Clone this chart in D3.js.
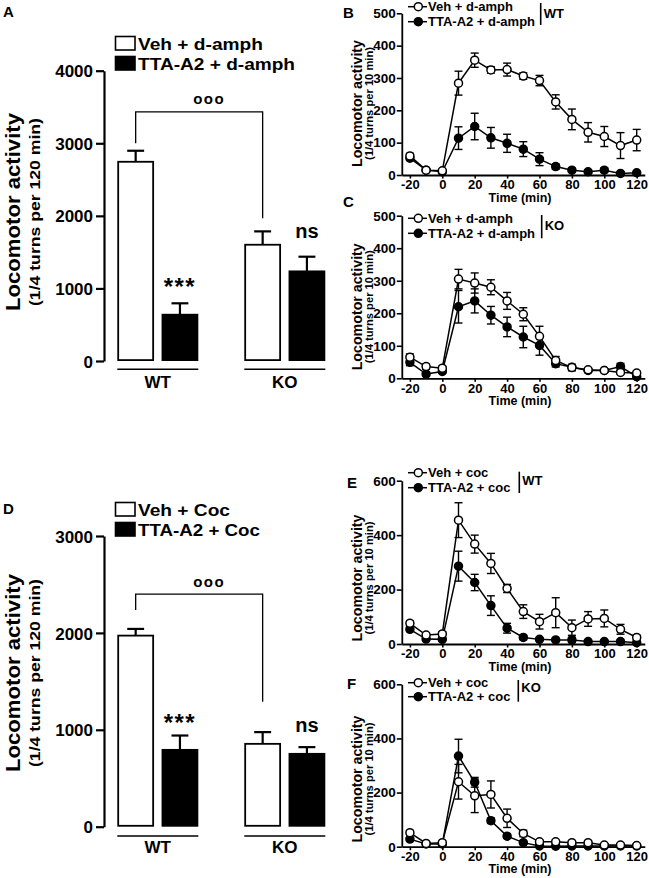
<!DOCTYPE html>
<html>
<head>
<meta charset="utf-8">
<script src="https://cdn.jsdelivr.net/npm/d3@7"></script>
<style>
  html, body { margin: 0; padding: 0; background: #fff; }
  svg { display: block; }
  text { font-family: 'Liberation Sans', Arial, Helvetica, sans-serif; font-weight: bold; fill: #000; }
</style>
</head>
<body>
<svg id="chart" width="649" height="878"></svg>
<script>
// ---------------- DATA ----------------
const groups = ["WT", "KO"];
const barSeries = ["Veh", "TTA-A2"];

// Panel A (d-amph, total 120 min)
const aLegend = ["Veh + d-amph", "TTA-A2 + d-amph"];
const aVeh = [2745, 1602];
const aVehErr = [152, 184];
const aTta = [638, 1235];
const aTtaErr = [157, 202];
const aTicks = [0, 1000, 2000, 3000, 4000];
const aBracket = [3434, 3000, 1966];   // top, left end, right end (values)

// Panel D (cocaine, total 120 min)
const dLegend = ["Veh + Coc", "TTA-A2 + Coc"];
const dVeh = [1972, 855];
const dVehErr = [69, 121];
const dTta = [793, 752];
const dTtaErr = [148, 69];
const dTicks = [0, 1000, 2000, 3000];
const dBracket = [2401, 2236, 1290];

// Time course (min)
const times = [-20, -10, 0, 10, 20, 30, 40, 50, 60, 70, 80, 90, 100, 110, 120];
const timeTicks = [-20, 0, 20, 40, 60, 80, 100, 120];

// Panel B (WT, d-amph)
const bLegend = ["Veh + d-amph", "TTA-A2 + d-amph"];
const bVeh    = [59, 15, 13, 284, 355, 325, 326, 306, 292, 226, 172, 132, 119, 91, 108];
const bVehErr = [8, 5, 5, 37, 22, 10, 20, 10, 16, 22, 32, 30, 31, 40, 33];
const bTta    = [52, 15, 10, 114, 150, 115, 98, 80, 49, 26, 15, 10, 15, 5, 7];
const bTtaErr = [6, 4, 4, 35, 41, 32, 28, 23, 20, 8, 6, 5, 7, 4, 4];

// Panel C (KO, d-amph)
const cLegend = ["Veh + d-amph", "TTA-A2 + d-amph"];
const cVeh    = [65, 36, 31, 305, 293, 280, 238, 197, 129, 55, 33, 26, 24, 18, 16];
const cVehErr = [10, 8, 6, 30, 31, 23, 26, 20, 31, 12, 10, 6, 5, 5, 6];
const cTta    = [49, 13, 21, 220, 238, 194, 158, 127, 101, 45, 34, 24, 24, 36, 5];
const cTtaErr = [10, 6, 5, 50, 37, 27, 30, 33, 30, 10, 8, 6, 5, 10, 4];

// Panel E (WT, cocaine)
const eLegend = ["Veh + coc", "TTA-A2 + coc"];
const eVeh    = [76, 33, 37, 455, 367, 296, 204, 119, 82, 115, 60, 92, 94, 54, 24];
const eVehErr = [10, 8, 8, 64, 33, 37, 15, 25, 27, 55, 28, 27, 31, 18, 8];
const eTta    = [54, 18, 17, 286, 226, 141, 58, 24, 17, 15, 15, 9, 9, 9, 5];
const eTtaErr = [8, 5, 5, 55, 30, 36, 18, 8, 5, 5, 10, 4, 4, 4, 3];

// Panel F (KO, cocaine)
const fLegend = ["Veh + coc", "TTA-A2 + coc"];
const fVeh    = [52, 12, 15, 240, 188, 193, 105, 49, 18, 18, 15, 15, 6, 6, 4];
const fVehErr = [8, 4, 5, 64, 62, 50, 34, 12, 6, 6, 5, 5, 4, 4, 3];
const fTta    = [28, 10, 10, 335, 238, 96, 39, 15, 3, 2, 3, 3, 3, 3, 3];
const fTtaErr = [6, 4, 4, 62, 18, 10, 8, 5, 2, 2, 2, 2, 2, 2, 2];

const ticks500 = [0, 100, 200, 300, 400, 500];
const ticks600 = [0, 200, 400, 600];

// ---------------- DRAWING ----------------
const svg = d3.select("#chart");

function letter(txt, x, y) {
  svg.append("text").attr("x", x).attr("y", y).attr("font-size", 15).text(txt);
}

function barPanel(cfg) {
  const g = svg.append("g");
  const y = d3.scaleLinear().domain([0, cfg.ymax]).range([cfg.y0, cfg.yTop]);
  const xg = d3.scaleBand().domain(groups).range([117.3, 325.3]).paddingInner(0.362);
  const xs = d3.scaleBand().domain(barSeries).range([0, xg.bandwidth()]).paddingInner(0.17);

  // axis
  const ax = g.append("g").attr("transform", `translate(104,0)`)
    .call(d3.axisLeft(y).tickValues(cfg.ticks).tickSize(8).tickPadding(3).tickSizeOuter(0).tickFormat(d3.format("d")));
  ax.select(".domain").attr("stroke-width", 2.2);
  ax.selectAll(".tick line").attr("stroke-width", 2.2);
  ax.selectAll(".tick text").attr("font-size", 17).attr("font-family", null).attr("dy", "0.36em");

  // bars
  const rows = [];
  groups.forEach((gr, i) => {
    rows.push({ g: gr, s: barSeries[0], v: cfg.veh[i], e: cfg.vehErr[i], fill: "#fff" });
    rows.push({ g: gr, s: barSeries[1], v: cfg.tta[i], e: cfg.ttaErr[i], fill: "#000" });
  });
  const bw = xs.bandwidth();
  rows.forEach(r => {
    const x0 = xg(r.g) + xs(r.s);
    const cx = x0 + bw / 2;
    g.append("line").attr("x1", cx).attr("x2", cx).attr("y1", y(r.v)).attr("y2", y(r.v + r.e))
      .attr("stroke", "#000").attr("stroke-width", 2.2);
    g.append("line").attr("x1", cx - bw * 0.23).attr("x2", cx + bw * 0.23)
      .attr("y1", y(r.v + r.e)).attr("y2", y(r.v + r.e)).attr("stroke", "#000").attr("stroke-width", 2.2);
    g.append("rect").attr("x", x0 + 0.9).attr("y", y(r.v)).attr("width", bw - 1.8).attr("height", y(0) - y(r.v) - 0.9)
      .attr("fill", r.fill).attr("stroke", "#000").attr("stroke-width", 1.8);
  });

  // group underline + labels
  groups.forEach(gr => {
    g.append("line").attr("x1", xg(gr)).attr("x2", xg(gr) + xg.bandwidth())
      .attr("y1", cfg.y0 + cfg.ulOff).attr("y2", cfg.y0 + cfg.ulOff).attr("stroke", "#000").attr("stroke-width", 1.5);
    g.append("text").attr("x", xg(gr) + xg.bandwidth() / 2).attr("y", cfg.y0 + cfg.lblOff)
      .attr("text-anchor", "middle").attr("font-size", 17).text(gr);
  });

  // significance
  const cWT = xg("WT") + xs(barSeries[1]) + bw / 2;
  const cKO = xg("KO") + xs(barSeries[1]) + bw / 2;
  g.append("text").attr("x", cWT).attr("y", cfg.starY).attr("text-anchor", "middle")
    .attr("font-size", 24).attr("letter-spacing", 1.5).text("***");
  g.append("text").attr("x", cKO).attr("y", cfg.nsY).attr("text-anchor", "middle")
    .attr("font-size", 20).text("ns");

  // bracket
  const lx = xg("WT") + xs(barSeries[0]) + bw / 2;
  const rx = xg("KO") + xs(barSeries[0]) + bw / 2;
  g.append("path").attr("d", `M${lx},${y(cfg.bracket[1])}V${y(cfg.bracket[0])}H${rx}V${y(cfg.bracket[2])}`)
    .attr("fill", "none").attr("stroke", "#000").attr("stroke-width", 1.3);
  g.append("text").attr("x", (lx + rx) / 2 + 10).attr("y", y(cfg.bracket[0]) - 7.5).attr("text-anchor", "middle")
    .attr("font-size", 15).attr("letter-spacing", 1.5).text("ooo");

  // legend
  cfg.legend.forEach((t, i) => {
    const ly = cfg.legY + i * 20;
    g.append("rect").attr("x", 115.5).attr("y", ly).attr("width", 19.5).attr("height", 13.5)
      .attr("fill", i === 0 ? "#fff" : "#000").attr("stroke", "#000").attr("stroke-width", 1.6);
    g.append("text").attr("x", 138).attr("y", ly + 13.5).attr("font-size", 17)
      .attr("textLength", cfg.legLen[i]).attr("lengthAdjust", "spacingAndGlyphs").text(t);
  });

  // y labels
  g.append("text").attr("transform", `translate(19.5,${cfg.labCy}) rotate(-90)`).attr("text-anchor", "middle")
    .attr("font-size", 21).attr("textLength", 198).attr("lengthAdjust", "spacingAndGlyphs").text("Locomotor activity");
  g.append("text").attr("transform", `translate(39.5,${cfg.labCy}) rotate(-90)`).attr("text-anchor", "middle")
    .attr("font-size", 15).attr("textLength", 188).attr("lengthAdjust", "spacingAndGlyphs").text("(1/4 turns per 120 min)");
}

function linePanel(cfg) {
  const g = svg.append("g");
  const x = d3.scaleLinear().domain([-25, 125]).range([401.8, 644.8]);
  const y = d3.scaleLinear().domain([0, cfg.ymax]).range([cfg.y0, cfg.yTop]);

  const ax = g.append("g").attr("transform", `translate(0,${cfg.y0})`)
    .call(d3.axisBottom(x).tickValues(timeTicks).tickSize(3.5).tickPadding(1.5).tickSizeOuter(0).tickFormat(d => String(d)));
  ax.select(".domain").attr("stroke-width", 1.8);
  ax.selectAll(".tick line").attr("stroke-width", 1.6);
  ax.selectAll(".tick text").attr("font-size", 13).attr("font-family", null);

  const ay = g.append("g").attr("transform", `translate(${x(-25)},0)`)
    .call(d3.axisLeft(y).tickValues(cfg.ticks).tickSize(5).tickPadding(1).tickSizeOuter(0));
  ay.select(".domain").attr("stroke-width", 1.8);
  ay.selectAll(".tick line").attr("stroke-width", 1.6);
  ay.selectAll(".tick text").attr("font-size", 13.5).attr("font-family", null);

  if (cfg.timeLabel) {
    g.append("text").attr("x", 520).attr("y", cfg.y0 + 26.5).attr("text-anchor", "middle")
      .attr("font-size", 12.5).text("Time (min)");
  }

  const line = d3.line().x((d, i) => x(times[i])).y(d => y(d));
  const series = [
    { v: cfg.tta, e: cfg.ttaErr, fill: "#000" },
    { v: cfg.veh, e: cfg.vehErr, fill: "#fff" }
  ];
  series.forEach(s => {
    const eg = g.append("g").attr("stroke", "#000").attr("stroke-width", 1.4);
    s.v.forEach((v, i) => {
      const cx = x(times[i]);
      eg.append("line").attr("x1", cx).attr("x2", cx).attr("y1", y(v - s.e[i])).attr("y2", y(v + s.e[i]));
      [v - s.e[i], v + s.e[i]].forEach(w => {
        eg.append("line").attr("x1", cx - 4).attr("x2", cx + 4).attr("y1", y(w)).attr("y2", y(w));
      });
    });
  });
  series.forEach(s => {
    g.append("path").datum(s.v).attr("d", line).attr("fill", "none").attr("stroke", "#000").attr("stroke-width", 1.5);
  });
  series.forEach(s => {
    g.selectAll(null).data(s.v).enter().append("circle")
      .attr("cx", (d, i) => x(times[i])).attr("cy", d => y(d)).attr("r", 4)
      .attr("fill", s.fill).attr("stroke", "#000").attr("stroke-width", 1.5);
  });

  // legend
  cfg.legend.forEach((t, i) => {
    const ly = cfg.legY[i];
    g.append("line").attr("x1", 408).attr("x2", 427).attr("y1", ly).attr("y2", ly).attr("stroke", "#000").attr("stroke-width", 1.5);
    g.append("circle").attr("cx", 418.3).attr("cy", ly).attr("r", 4)
      .attr("fill", i === 0 ? "#fff" : "#000").attr("stroke", "#000").attr("stroke-width", 1.5);
    g.append("text").attr("x", 428).attr("y", ly + 4.6).attr("font-size", 13).text(t);
  });
  g.append("line").attr("x1", cfg.barX).attr("x2", cfg.barX).attr("y1", cfg.barY[0]).attr("y2", cfg.barY[1])
    .attr("stroke", "#000").attr("stroke-width", 1.6);
  g.append("text").attr("x", cfg.barX + 3).attr("y", cfg.gtY).attr("font-size", 13).text(cfg.gt);

  // y labels
  g.append("text").attr("transform", `translate(362,${cfg.y0 - cfg.labOff}) rotate(-90)`).attr("text-anchor", "middle")
    .attr("font-size", 14.5).attr("textLength", 127).attr("lengthAdjust", "spacingAndGlyphs").text("Locomotor activity");
  g.append("text").attr("transform", `translate(373,${cfg.y0 - cfg.labOff}) rotate(-90)`).attr("text-anchor", "middle")
    .attr("font-size", 10).attr("textLength", 113).attr("lengthAdjust", "spacingAndGlyphs").text("(1/4 turns per 10 min)");
}

// Panels
barPanel({ y0: 361, yTop: 70.7, ymax: 4000, ticks: aTicks, veh: aVeh, vehErr: aVehErr, tta: aTta, ttaErr: aTtaErr,
  bracket: aBracket, legend: aLegend, legLen: [125, 157], legY: 36.5, labCy: 212,
  ulOff: 8.3, lblOff: 27.3, starY: 294.5, nsY: 238.3 });
barPanel({ y0: 826.7, yTop: 536, ymax: 3000, ticks: dTicks, veh: dVeh, vehErr: dVehErr, tta: dTta, ttaErr: dTtaErr,
  bracket: dBracket, legend: dLegend, legLen: [92, 122], legY: 502.5, labCy: 673,
  ulOff: 9.3, lblOff: 26.6, starY: 731.3, nsY: 731.7 });

linePanel({ y0: 175, yTop: 13.3, ymax: 500, ticks: ticks500, veh: bVeh, vehErr: bVehErr, tta: bTta, ttaErr: bTtaErr,
  legend: bLegend, legY: [6.7, 21.7], barX: 540.7, barY: [3, 25], gt: "WT", gtY: 18.3, labOff: 71.5, timeLabel: true });
linePanel({ y0: 378.3, yTop: 215.7, ymax: 500, ticks: ticks500, veh: cVeh, vehErr: cVehErr, tta: cTta, ttaErr: cTtaErr,
  legend: cLegend, legY: [218.3, 233.3], barX: 541.7, barY: [215, 238.3], gt: "KO", gtY: 230, labOff: 71.5, timeLabel: true });
linePanel({ y0: 644, yTop: 480.7, ymax: 600, ticks: ticks600, veh: eVeh, vehErr: eVehErr, tta: eTta, ttaErr: eTtaErr,
  legend: eLegend, legY: [472.7, 487.7], barX: 519.3, barY: [471.7, 493], gt: "WT", gtY: 484.6, labOff: 66, timeLabel: true });
linePanel({ y0: 846.7, yTop: 684.3, ymax: 600, ticks: ticks600, veh: fVeh, vehErr: fVehErr, tta: fTta, ttaErr: fTtaErr,
  legend: fLegend, legY: [682.7, 696.7], barX: 518.3, barY: [680, 701.7], gt: "KO", gtY: 691.7, labOff: 67.7, timeLabel: true });

letter("A", 3, 17.3);
letter("B", 343, 18.3);
letter("C", 343, 207);
letter("D", 3, 514);
letter("E", 347, 488);
letter("F", 347, 689);
</script>
</body>
</html>
